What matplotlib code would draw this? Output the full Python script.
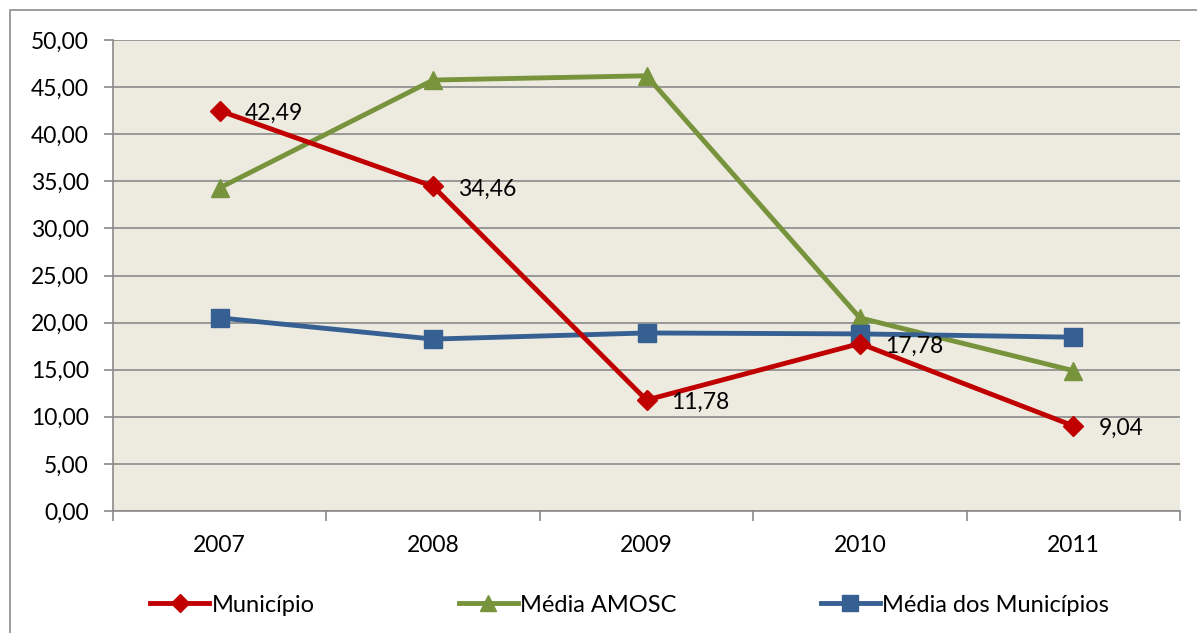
import matplotlib
matplotlib.use("Agg")
import matplotlib.pyplot as plt
from matplotlib.patches import Rectangle
from matplotlib.ticker import FixedLocator, NullFormatter, FuncFormatter

years = ["2007", "2008", "2009", "2010", "2011"]
municipio = [42.49, 34.46, 11.78, 17.78, 9.04]
media_amosc = [34.3, 45.75, 46.2, 20.5, 14.9]
media_municipios = [20.5, 18.25, 18.9, 18.8, 18.45]
municipio_labels = ["42,49", "34,46", "11,78", "17,78", "9,04"]

plt.rcParams['font.family'] = ['Lato', 'DejaVu Sans']

W, H = 1197, 633
fig = plt.figure(figsize=(W / 100, H / 100), dpi=100)
fig.patches.append(Rectangle((10 / W, -0.01), 1.02, 1 - 10 / H + 0.01, transform=fig.transFigure,
                             facecolor='white', edgecolor='#8c8c8c', linewidth=1.2, zorder=-1))

ax = fig.add_axes([113 / W, 1 - 511 / H, (1180 - 113) / W, (511 - 40) / H])
ax.set_facecolor('#EDEBE0')
x = list(range(len(years)))

ax.plot(x, municipio, color='#C00000', lw=3.5, marker='D', markersize=10, label='Município', zorder=3)
ax.plot(x, media_amosc, color='#77933C', lw=3.5, marker='^', markersize=13, label='Média AMOSC', zorder=2)
ax.plot(x, media_municipios, color='#376092', lw=3.5, marker='s', markersize=12.5, label='Média dos Municípios', zorder=2)

for xi, v, t in zip(x, municipio, municipio_labels):
    ax.annotate(t, (xi, v), xytext=(18, -2), textcoords='offset points', ha='left', va='center',
                fontsize=16.5, color='black', zorder=5)

ax.set_xlim(-0.5, len(years) - 0.5)
ax.set_ylim(0, 50)
ax.set_yticks([i * 5 for i in range(11)])
ax.yaxis.set_major_formatter(FuncFormatter(lambda v, p: f"{v:.2f}".replace('.', ',')))
ax.grid(axis='y', color='#8a8a8a', lw=1.2)
ax.set_axisbelow(True)

ax.set_xticks(x)
ax.set_xticklabels(years)
ax.tick_params(axis='x', which='major', length=0, pad=17, labelsize=16.5)
ax.xaxis.set_minor_locator(FixedLocator([i - 0.5 for i in range(len(years) + 1)]))
ax.xaxis.set_minor_formatter(NullFormatter())
ax.tick_params(axis='x', which='minor', length=7, color='#8a8a8a', width=1.2)
ax.tick_params(axis='y', length=6.5, color='#8a8a8a', width=1.2, labelsize=16.5, pad=11)

for s in ['top', 'right']:
    ax.spines[s].set_visible(False)
for s in ['left', 'bottom']:
    ax.spines[s].set_color('#8a8a8a')
    ax.spines[s].set_linewidth(1.2)

leg = fig.legend(loc='center', bbox_to_anchor=(0.526, 1 - 605 / H), ncol=3, frameon=False,
                 fontsize=17, handlelength=2.5, handletextpad=0.1, columnspacing=6.1, markerscale=0.9)

fig.savefig('out.png', dpi=100)
